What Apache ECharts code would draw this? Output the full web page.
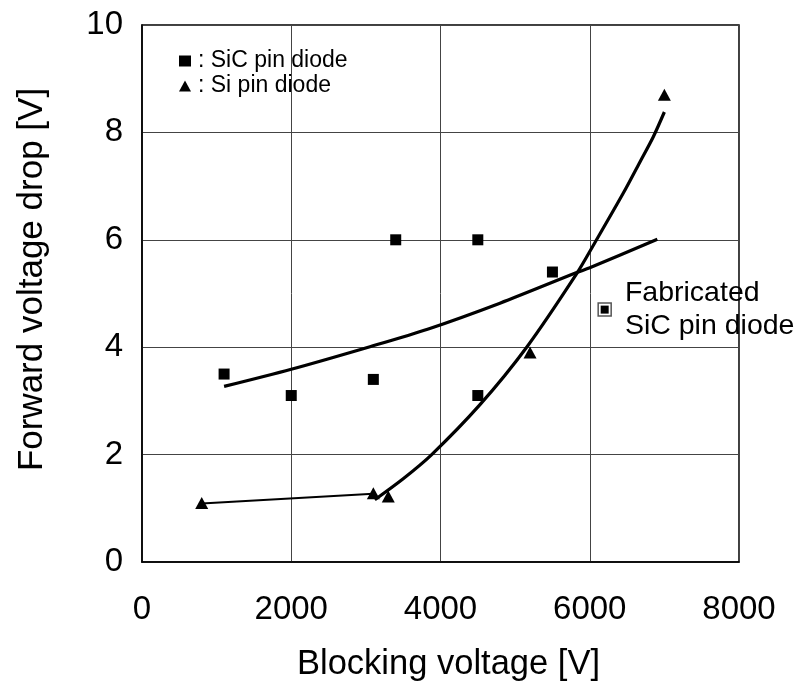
<!DOCTYPE html>
<html>
<head>
<meta charset="utf-8">
<script src="https://cdn.jsdelivr.net/npm/echarts@6/dist/echarts.min.js"></script>
<style>html,body{margin:0;padding:0;background:#fff}#c{width:801px;height:692px}</style>
</head>
<body>
<div id="c"></div>
<script>
// Tick labels
const xTicks = [0, 2000, 4000, 6000, 8000];
const yTicks = [0, 2, 4, 6, 8, 10];
// Measured points
const sicX = [1100, 2000, 3100, 3400, 4500, 4500, 5500];
const sicY = [3.5, 3.1, 3.4, 6.0, 6.0, 3.1, 5.4];
const siX = [800, 3100, 3300, 5200, 7000];
const siY = [1.1, 1.28, 1.22, 3.9, 8.7];
// Fabricated device
const fabX = [6200];
const fabY = [4.7];
// Trend curves
const sicFitX = [1100, 2000, 3055, 3837, 4797, 5825, 6000, 6906];
const sicFitY = [3.27, 3.59, 4.01, 4.34, 4.82, 5.39, 5.48, 6.01];
const siLowX = [800, 3100];
const siLowY = [1.09, 1.27];
const siFitX = [3120, 3500, 3882, 4529, 5155, 5825, 6070, 6450, 6673, 6852, 7000];
const siFitY = [1.16, 1.55, 2.0, 2.93, 4.0, 5.37, 5.95, 6.87, 7.45, 7.92, 8.38];

const zip = (a, b) => a.map((v, i) => [v, b[i]]);
const FONT = 'Liberation Sans, Arial, sans-serif';

const chart = echarts.init(document.getElementById('c'), null, {renderer: 'canvas'});
chart.setOption({
  animation: false,
  backgroundColor: '#fff',
  grid: {left: 142, right: 62, top: 25, bottom: 130, show: true, borderColor: '#000', borderWidth: 1.5, backgroundColor: 'transparent'},
  legend: {
    orient: 'vertical', left: 174, top: 44,
    itemWidth: 12, itemHeight: 11, itemGap: 1,
    selectedMode: false,
    data: [{name: 'SiC pin diode', icon: 'rect', itemStyle: {color: '#000', opacity: 1}},
           {name: 'Si pin diode', icon: 'triangle', itemStyle: {color: '#000', opacity: 1}}],
    formatter: n => ': ' + n,
    textStyle: {fontFamily: FONT, fontSize: 23, color: '#000', lineHeight: 24, padding: [0, 0, 0, 2]}
  },
  xAxis: {
    type: 'value', min: xTicks[0], max: xTicks[xTicks.length - 1], interval: xTicks[1] - xTicks[0],
    name: 'Blocking voltage [V]', nameLocation: 'middle', nameGap: 85,
    nameTextStyle: {fontFamily: FONT, fontSize: 34.5, color: '#000', padding: [0, 0, 0, 16]},
    axisLine: {show: true, onZero: false, lineStyle: {color: '#000', width: 1.5}},
    axisTick: {show: false},
    axisLabel: {fontFamily: FONT, fontSize: 33, color: '#000', margin: 31, formatter: v => String(v)},
    splitLine: {show: true, lineStyle: {color: '#444', width: 1}}
  },
  yAxis: {
    type: 'value', min: yTicks[0], max: yTicks[yTicks.length - 1], interval: yTicks[1] - yTicks[0],
    name: 'Forward voltage drop [V]', nameLocation: 'middle', nameGap: 92,
    nameTextStyle: {fontFamily: FONT, fontSize: 35, color: '#000', padding: [0, 0, 0, 28]},
    axisLine: {show: true, onZero: false, lineStyle: {color: '#000', width: 1.5}},
    axisTick: {show: false},
    axisLabel: {fontFamily: FONT, fontSize: 33, color: '#000', margin: 19, formatter: v => String(v)},
    splitLine: {show: true, lineStyle: {color: '#444', width: 1}}
  },
  series: [
    {name: 'SiC fit', type: 'line', data: zip(sicFitX, sicFitY), smooth: 0.3, showSymbol: false,
     lineStyle: {color: '#000', width: 3.2}, silent: true, z: 2},
    {name: 'Si low', type: 'line', data: zip(siLowX, siLowY), showSymbol: false,
     lineStyle: {color: '#000', width: 2}, silent: true, z: 2},
    {name: 'Si fit', type: 'line', data: zip(siFitX, siFitY), smooth: 0.3, showSymbol: false,
     lineStyle: {color: '#000', width: 3.2}, silent: true, z: 2},
    {name: 'SiC pin diode', type: 'scatter', data: zip(sicX, sicY), symbol: 'rect', symbolSize: 11,
     itemStyle: {color: '#000', opacity: 1}, z: 3},
    {name: 'Si pin diode', type: 'scatter', data: zip(siX, siY), symbol: 'triangle', symbolSize: [13, 12],
     itemStyle: {color: '#000', opacity: 1}, z: 3},
    {name: 'Fabricated outer', type: 'scatter', data: zip(fabX, fabY), symbol: 'rect', symbolSize: 13,
     itemStyle: {color: '#fff', borderColor: '#555', borderWidth: 1.5, opacity: 1}, z: 3,
     label: {show: true, position: 'right', distance: 13, formatter: 'Fabricated\nSiC pin diode',
       fontFamily: FONT, fontSize: 28.5, lineHeight: 33, color: '#000', align: 'left'}},
    {name: 'Fabricated inner', type: 'scatter', data: zip(fabX, fabY), symbol: 'rect', symbolSize: 8,
     itemStyle: {color: '#000', opacity: 1}, z: 4}
  ]
});
</script>
</body>
</html>
